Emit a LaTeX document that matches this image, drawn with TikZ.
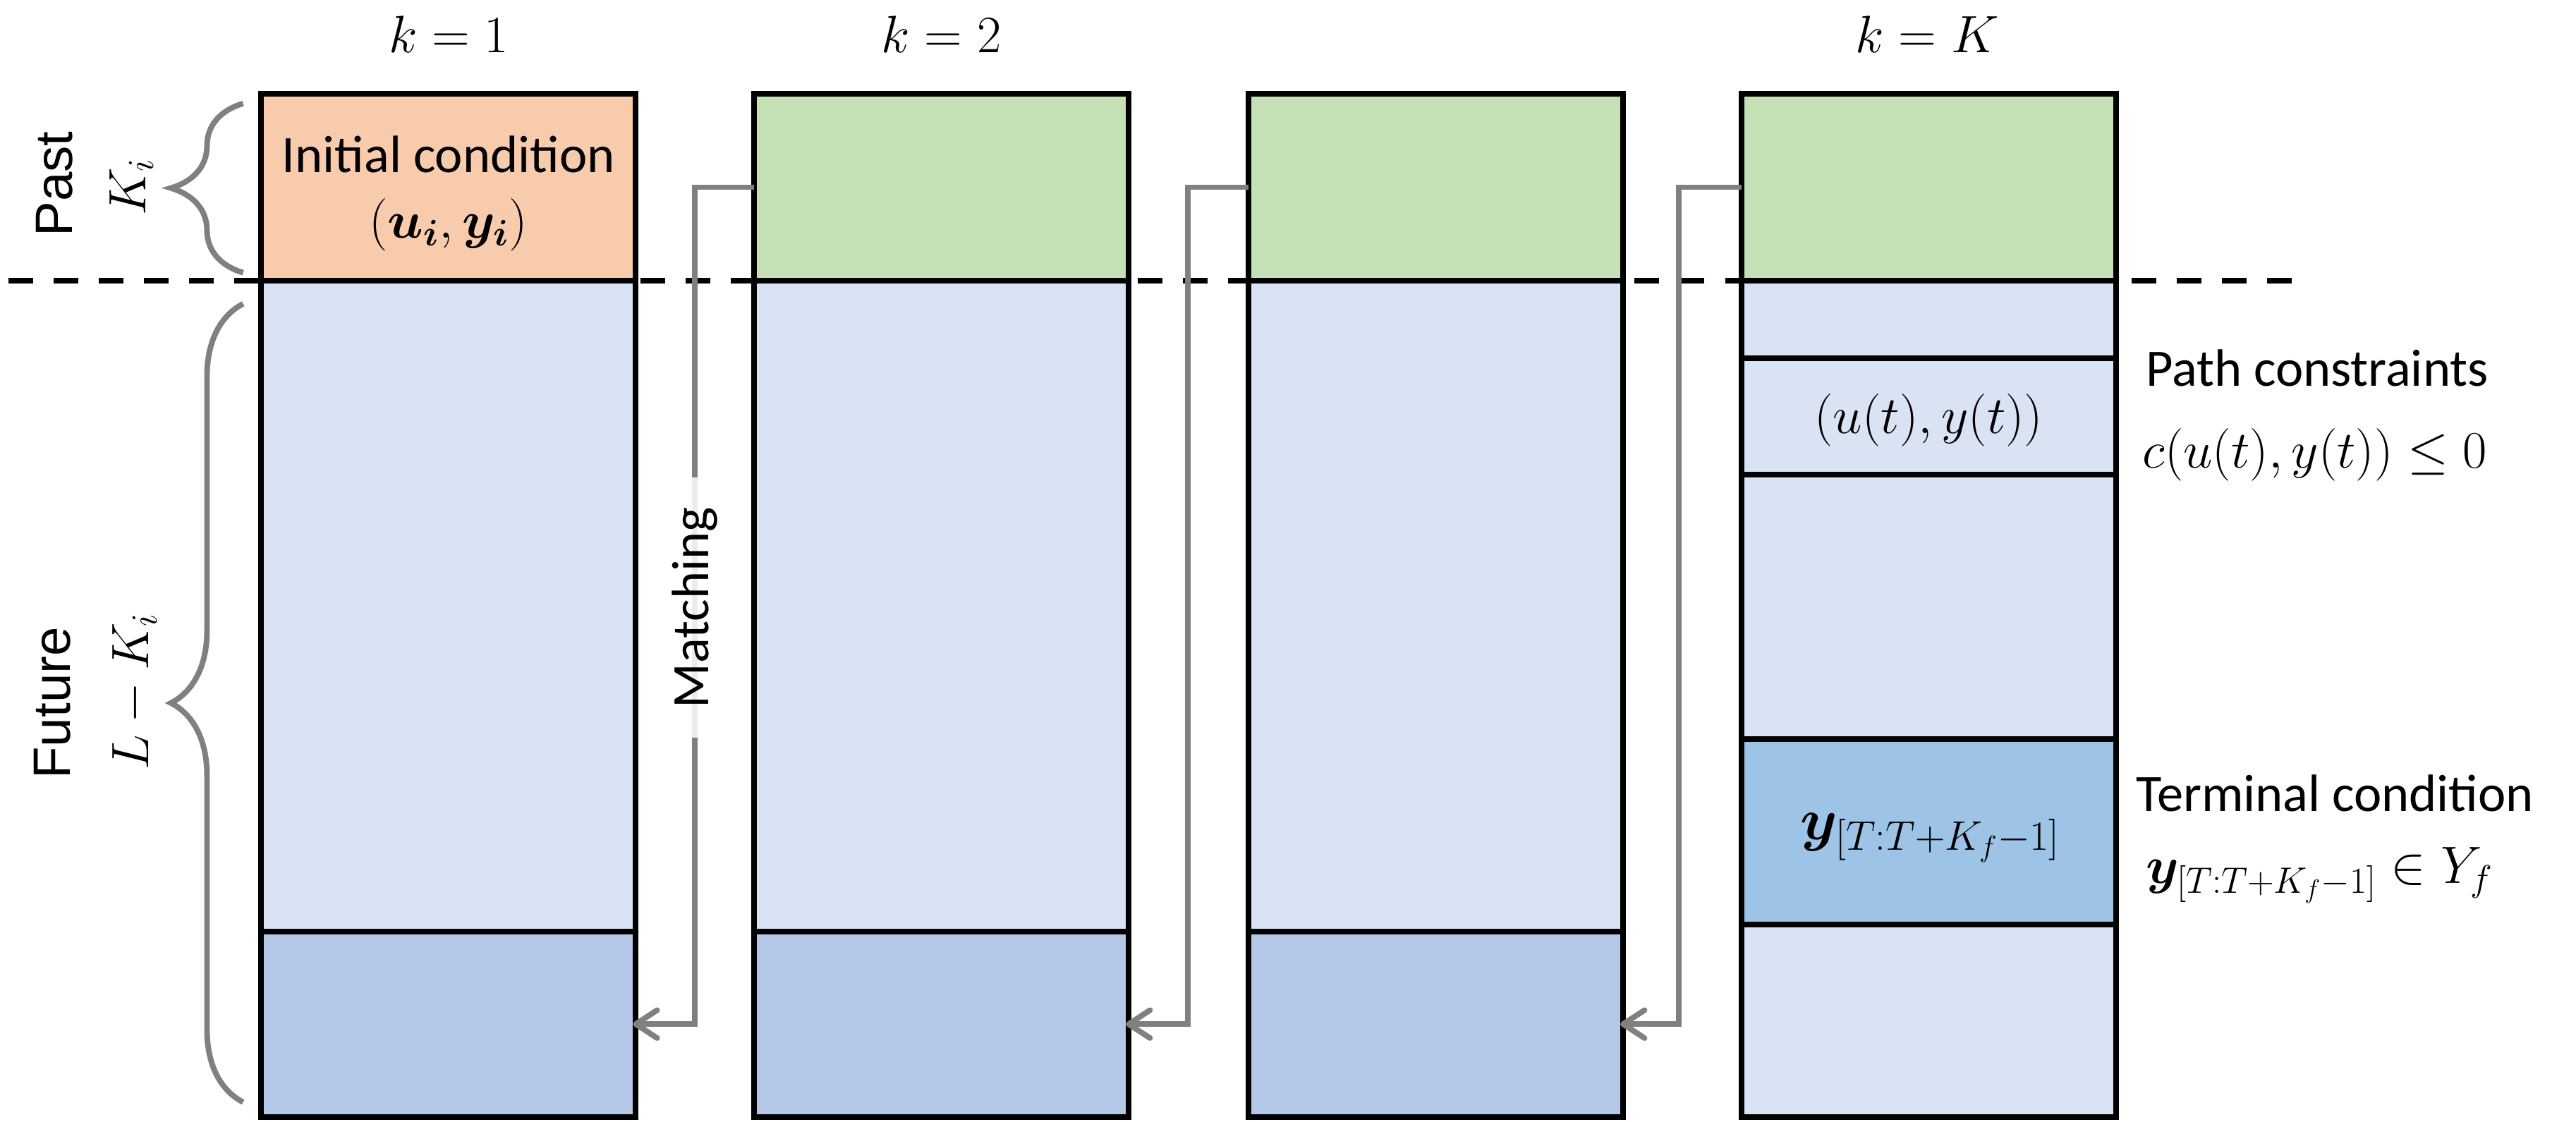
\documentclass[tikz,border=0pt]{standalone}
\usepackage{fix-cm}
\usepackage{amsmath,bm}
\usepackage{fontspec}
\setmainfont{Carlito}
\newfontfamily\arialfont{Liberation Sans}
\usetikzlibrary{arrows.meta,decorations.pathreplacing}
\definecolor{orangeC}{HTML}{F8CBAD}
\definecolor{greenC}{HTML}{C5E0B4}
\definecolor{lightB}{HTML}{DAE3F3}
\definecolor{darkB}{HTML}{B4C7E7}
\definecolor{midB}{HTML}{9DC3E6}
\definecolor{grayL}{HTML}{808080}
\begin{document}
\begin{tikzpicture}[x=1pt,y=-1pt,
  font=\fontsize{32}{38}\selectfont,
  cell/.style={draw=black,line width=3.4pt,minimum width=228pt,anchor=north west,inner sep=0pt,outer sep=0pt},
  match/.style={draw=grayL,line width=3.4pt,shorten >=-1.7pt,-{Straight Barb[length=13pt,width=17pt,line width=3.4pt,round]}},
  brc/.style={draw=grayL,line width=3.4pt,decorate,decoration={brace,amplitude=44pt}},
  sidelbl/.style={rotate=90,font=\arialfont\fontsize{32}{38}\selectfont},
  dashline/.style={draw=black,line width=3.4pt,dash pattern=on 15pt off 12.5pt}]
\useasboundingbox (0,0) rectangle (1568,683);
% dashed separator
\coordinate (dl) at (5,171);
\coordinate (dr) at (1395,171);
\draw[dashline] (dl) -- (dr);
% columns 1-3
\node[cell,fill=orangeC,minimum height=114pt] (p1) at (159,57) {};
\foreach \k/\x in {2/459,3/760,4/1060}{
  \node[cell,fill=greenC,minimum height=114pt] (p\k) at (\x,57) {};
}
\foreach \k/\x in {1/159,2/459,3/760}{
  \node[cell,fill=lightB,minimum height=396pt] (f\k) at (\x,171) {};
  \node[cell,fill=darkB,minimum height=113pt] (b\k) at (\x,567) {};
}
% column 4
\node[cell,fill=lightB,minimum height=47pt] (q1) at (1060,171) {};
\node[cell,fill=lightB,minimum height=71pt] (q2) at (1060,218) {};
\node[cell,fill=lightB,minimum height=161pt] (q3) at (1060,289) {};
\node[cell,fill=midB,minimum height=113pt] (q4) at (1060,450) {};
\node[cell,fill=lightB,minimum height=117pt] (q5) at (1060,563) {};
% headers
\node[anchor=base] (h1) at (273,32) {$k=1$};
\node[anchor=base] (h2) at (573,32) {$k=2$};
\node[anchor=base] (h3) at (1173,32) {$k=K$};
% texts in boxes
\node[anchor=base] (ic) at (273,105) {Initial condition};
\node (icm) at (273,137) {$(\bm{u_i},\bm{y_i})$};
\node (uy) at (1174,256) {$(u(t),y(t))$};
\node (yb) at (1175,510) {\fontsize{36}{40}\selectfont$\bm{y}_{[T:T+K_f-1]}$};
% right labels
\node[anchor=base west,inner sep=0pt] (pc) at (1306,235) {Path constraints};
\node[anchor=west,inner sep=0pt] (pcm) at (1304,277) {$c(u(t),y(t))\leq 0$};
\node[anchor=base west,inner sep=0pt] (tc) at (1300,494) {Terminal condition};
\node[anchor=west,inner sep=0pt] (tcm) at (1306,533) {$\bm{y}_{[T:T+K_f-1]}\in Y_f$};
% left labels and braces
\node[sidelbl] (past) at (33,112) {Past};
\node[rotate=90] (ki) at (80,114) {$K_i$};
\node[sidelbl] (fut) at (32,428) {Future};
\node[rotate=90] (lki) at (82,421) {$L-K_i$};
\draw[brc] (148,166) -- (148,63);
\draw[brc] (148,671) -- (148,185);
% matching connectors
\draw[match] (p2.west) -- ++(-36,0) |- (b1.east);
\draw[match] (p3.west) -- ++(-37,0) |- (b2.east);
\draw[match] (p4.west) -- ++(-38,0) |- (b3.east);
\node[rotate=90,fill=white,fill opacity=0.85,text opacity=1,inner xsep=18pt,inner ysep=2pt] (mt) at (423,370) {Matching};
\end{tikzpicture}
\end{document}
